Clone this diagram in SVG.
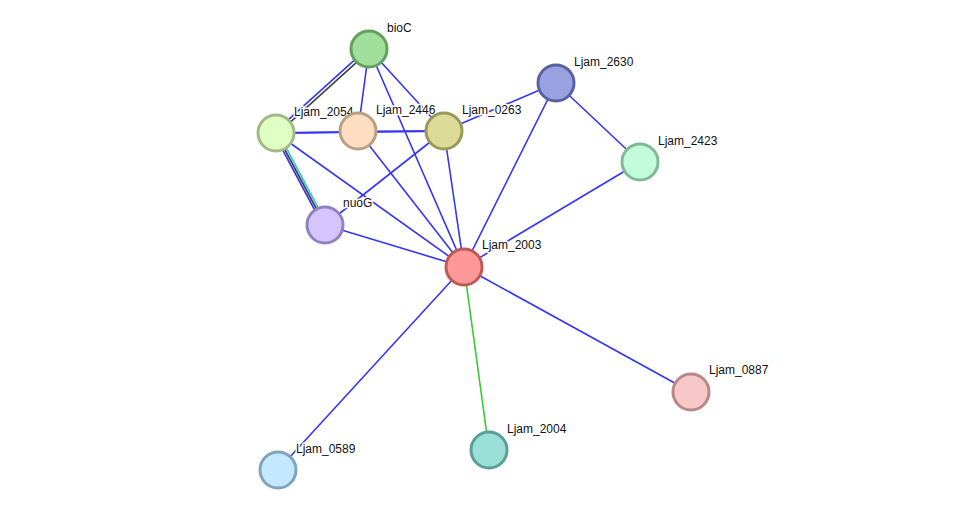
<svg xmlns="http://www.w3.org/2000/svg" width="976" height="516" viewBox="0 0 976 516">
<style>
.e{stroke:#3535f5;stroke-width:1.6;fill:none}
.g{stroke:#33cc33;stroke-width:1.6}
.k{stroke:#404040;stroke-width:1.6}
.c{stroke:#33c5dd;stroke-width:1.6}
.n circle{stroke-width:3}
.n text{font-family:"Liberation Sans",Arial,sans-serif;font-size:12px;fill:#111;stroke:#fff;stroke-width:3;paint-order:stroke;stroke-linejoin:round}
</style>
<rect width="976" height="516" fill="#fff"/>
<g id="edges">
<line class="e" x1="369" y1="49" x2="276" y2="133" transform="translate(-1.1,-1.2)"/>
<line class="k" x1="369" y1="49" x2="276" y2="133" transform="translate(1.1,1.2)"/>
<line class="e" x1="369" y1="49" x2="358" y2="131"/>
<line class="e" x1="369" y1="49" x2="444" y2="131"/>
<line class="e" x1="369" y1="49" x2="464" y2="267"/>
<line class="e" x1="276" y1="133" x2="358" y2="132"/>
<line class="e" x1="276" y1="133" x2="444" y2="131" style="stroke-width:2.2"/>
<line class="e" x1="358" y1="131.5" x2="444" y2="131"/>
<line class="e" x1="276" y1="133" x2="325" y2="225" transform="translate(-1.8,1)"/>
<line class="k" x1="276" y1="133" x2="325" y2="225"/>
<line class="c" x1="276" y1="133" x2="325" y2="225" transform="translate(1.8,-1)"/>
<line class="e" x1="276" y1="133" x2="464" y2="267"/>
<line class="e" x1="358" y1="131" x2="464" y2="267"/>
<line class="e" x1="444" y1="131" x2="325" y2="225"/>
<line class="e" x1="444" y1="131" x2="464" y2="267"/>
<line class="e" x1="444" y1="131" x2="556" y2="83"/>
<line class="e" x1="556" y1="83" x2="464" y2="267"/>
<line class="e" x1="556" y1="83" x2="640" y2="162"/>
<line class="e" x1="640" y1="162" x2="464" y2="267"/>
<line class="e" x1="325" y1="225" x2="464" y2="267"/>
<line class="e" x1="464" y1="267" x2="691" y2="392"/>
<line class="e" x1="464" y1="267" x2="278" y2="470"/>
<line class="g" x1="464" y1="267" x2="489" y2="450"/>
</g>
<g id="bioC" class="n"><circle cx="369" cy="49" r="18" fill="#a0e09a" stroke="#63a05d"/><text x="387" y="32">bioC</text></g>
<g id="Ljam_2054" class="n"><circle cx="276" cy="133" r="18" fill="#e0ffc2" stroke="#a2ba84"/><text x="294" y="116">Ljam_2054</text></g>
<g id="Ljam_2446" class="n"><circle cx="358" cy="131" r="18" fill="#fedec2" stroke="#b8a080"/><text x="376" y="114">Ljam_2446</text></g>
<g id="Ljam_0263" class="n"><circle cx="444" cy="131" r="18" fill="#dddb98" stroke="#9a9a58"/><text x="462" y="114">Ljam_0263</text></g>
<g id="Ljam_2630" class="n"><circle cx="556" cy="83" r="18" fill="#98a2e0" stroke="#5862a0"/><text x="574" y="66">Ljam_2630</text></g>
<g id="Ljam_2423" class="n"><circle cx="640" cy="162" r="18" fill="#c2fcda" stroke="#80b898"/><text x="658" y="145">Ljam_2423</text></g>
<g id="nuoG" class="n"><circle cx="325" cy="225" r="18" fill="#d5c5ff" stroke="#9282c2"/><text x="343" y="207">nuoG</text></g>
<g id="Ljam_2003" class="n"><circle cx="464" cy="267" r="18" fill="#ff9898" stroke="#c05858"/><text x="482" y="249">Ljam_2003</text></g>
<g id="Ljam_0887" class="n"><circle cx="691" cy="392" r="18" fill="#f8c8c8" stroke="#b88888"/><text x="709" y="374">Ljam_0887</text></g>
<g id="Ljam_2004" class="n"><circle cx="489" cy="450" r="18" fill="#9adfd8" stroke="#5a9e98"/><text x="507" y="433">Ljam_2004</text></g>
<g id="Ljam_0589" class="n"><circle cx="278" cy="470" r="18" fill="#c4e8ff" stroke="#80a4c0"/><text x="296" y="453">Ljam_0589</text></g>
</svg>
